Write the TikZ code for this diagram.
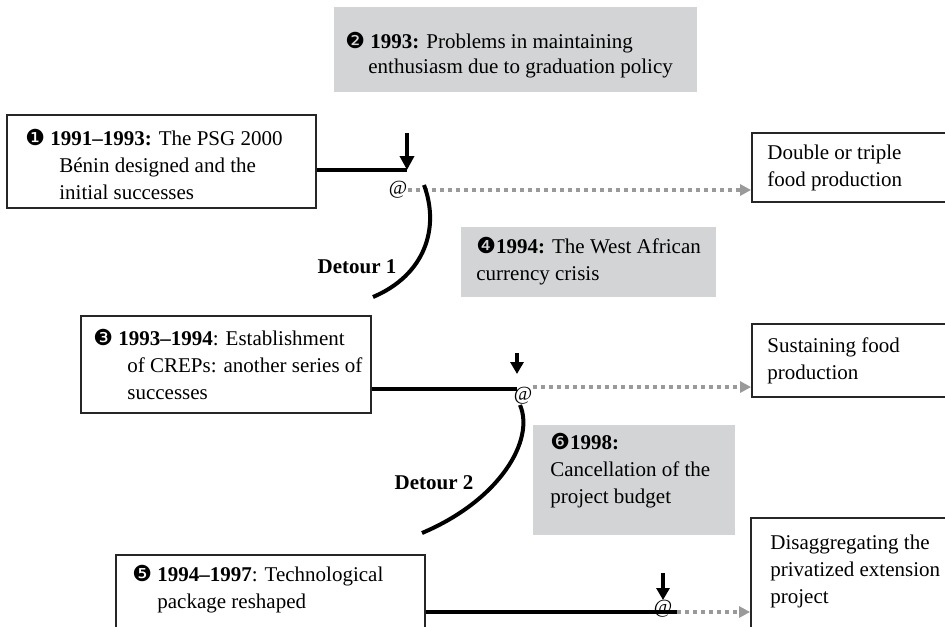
\documentclass[tikz,border=0pt]{standalone}
\usepackage{fontspec}
\setmainfont{Liberation Serif}
\newfontfamily\dingfont{DejaVu Sans}
\usepackage{tikz}
\usetikzlibrary{arrows.meta}
\definecolor{boxgray}{HTML}{D3D4D5}
\definecolor{dotgray}{HTML}{9A9A9A}
\newcommand{\bodysize}{\fontsize{10.5}{13.5}\selectfont}
\newcommand{\cnum}[1]{{\dingfont\fontsize{11}{11}\selectfont #1}}

\begin{document}
\begin{tikzpicture}[
  x=0.5pt, y=-0.5pt,
  every node/.style={font=\bodysize},
  evbox/.style={draw=black!85, line width=0.9pt, fill=white, inner sep=0pt},
  greybox/.style={fill=boxgray, inner sep=0pt},
  txt/.style={anchor=west, align=left, inner sep=0pt},
  trackline/.style={line width=2pt},
  push/.style={line width=2pt, -{Triangle[length=7pt,width=7pt]}},
  pushshort/.style={line width=2pt, -{Triangle[length=6pt,width=6.5pt]}},
  nextstep/.style={dotgray, line width=1.8pt, dash pattern=on 2.2pt off 1.8pt,
                   -{Triangle[length=5.5pt,width=5.5pt]}},
  atsign/.style={font=\fontsize{10}{10}\selectfont, inner sep=0pt},
  detour/.style={font=\bodysize\bfseries},
]
  \clip (0,0) rectangle (945,626);

  % Boxes
  \node[evbox, minimum width=154.5pt, minimum height=46.5pt] (b1) at (161.5,161.5) {};
  \node[greybox, minimum width=181.5pt, minimum height=42.5pt] (b2) at (515.5,49.5) {};
  \node[evbox, minimum width=124pt, minimum height=34.5pt] (o1) at (876,167.5) {};
  \node[greybox, minimum width=127.5pt, minimum height=35pt] (b4) at (588.5,262) {};
  \node[evbox, minimum width=145pt, minimum height=48.5pt] (b3) at (226,364.5) {};
  \node[evbox, minimum width=124pt, minimum height=36.5pt] (o2) at (876,360.5) {};
  \node[greybox, minimum width=101pt, minimum height=55pt] (b6) at (634,480) {};
  \node[evbox, minimum width=154.5pt, minimum height=62.5pt] (b5) at (270.5,617.5) {};
  \node[evbox, minimum width=124.5pt, minimum height=81pt] (o3) at (875.5,599) {};

  % Texts
  \node[txt] (t1) at (25,164.5) {\cnum{❶} \textbf{1991–1993:} The PSG 2000\\
    \hspace*{17pt}Bénin designed and the\\\hspace*{17pt}initial successes};
  \node[txt, font=\fontsize{10.5}{12.5}\selectfont] (t2) at (345,55)
    {\cnum{❷} \textbf{1993:} Problems in maintaining\\
    \hspace*{11.5pt}enthusiasm due to graduation policy};
  \node[txt] (t4) at (476,261.5) {\cnum{❹}\textbf{1994:} The West African\\currency crisis};
  \node[txt] (t3) at (93,364.5) {\cnum{❸} \textbf{1993–1994}: Establishment\\
    \hspace*{17pt}of CREPs: another series of\\\hspace*{17pt}successes};
  \node[txt] (t6) at (550,470.5) {\cnum{❻}\textbf{1998:}\\Cancellation of the\\project budget};
  \node[txt] (t5) at (132,589) {\cnum{❺} \textbf{1994–1997}: Technological\\
    \hspace*{12.5pt}package reshaped};
  \node[txt] (to1) at (767,167.5) {Double or triple\\food production};
  \node[txt] (to2) at (767,361) {Sustaining food\\production};
  \node[txt] (to3) at (770,571) {Disaggregating the\\privatized extension\\project};

  % Stage 1
  \coordinate (j1) at (407,170);
  \coordinate (p1) at (407,133);
  \draw[trackline] (b1.east |- j1) -- (j1);
  \draw[push] (p1) -- (j1);
  \node[atsign] (at1) at (398,190) {@};
  \draw[nextstep] (at1.east) -- (at1.east -| o1.west);

  % Detour 1
  \coordinate (d1a) at (424,185);
  \coordinate (d1b) at (373,297);
  \draw[trackline] (d1a) .. controls (440,228) and (425,275) .. (d1b);
  \node[detour] (dt1) at (357,267) {Detour 1};

  % Stage 2
  \coordinate (j2) at (517,389);
  \coordinate (p2) at (517,353);
  \coordinate (q2) at (517,374);
  \draw[trackline] (b3.east |- j2) -- (j2);
  \draw[pushshort] (p2) -- (q2);
  \node[atsign] (at2) at (523,396) {@};
  \draw[nextstep] (at2.north east) -- (at2.north east -| o2.west);

  % Detour 2
  \coordinate (d2a) at (520,405);
  \coordinate (d2b) at (422,533);
  \draw[trackline] (d2a) .. controls (535,440) and (500,500) .. (d2b);
  \node[detour] (dt2) at (434,483) {Detour 2};

  % Stage 3
  \coordinate (j3) at (663,612);
  \coordinate (k3) at (677,612);
  \coordinate (p3) at (663,573);
  \coordinate (q3) at (663,600);
  \draw[trackline] (b5.east |- j3) -- (k3);
  \draw[pushshort] (p3) -- (q3);
  \node[atsign] (at3) at (663,609) {@};
  \draw[nextstep] (k3) -- (k3 -| o3.west);
\end{tikzpicture}
\end{document}
